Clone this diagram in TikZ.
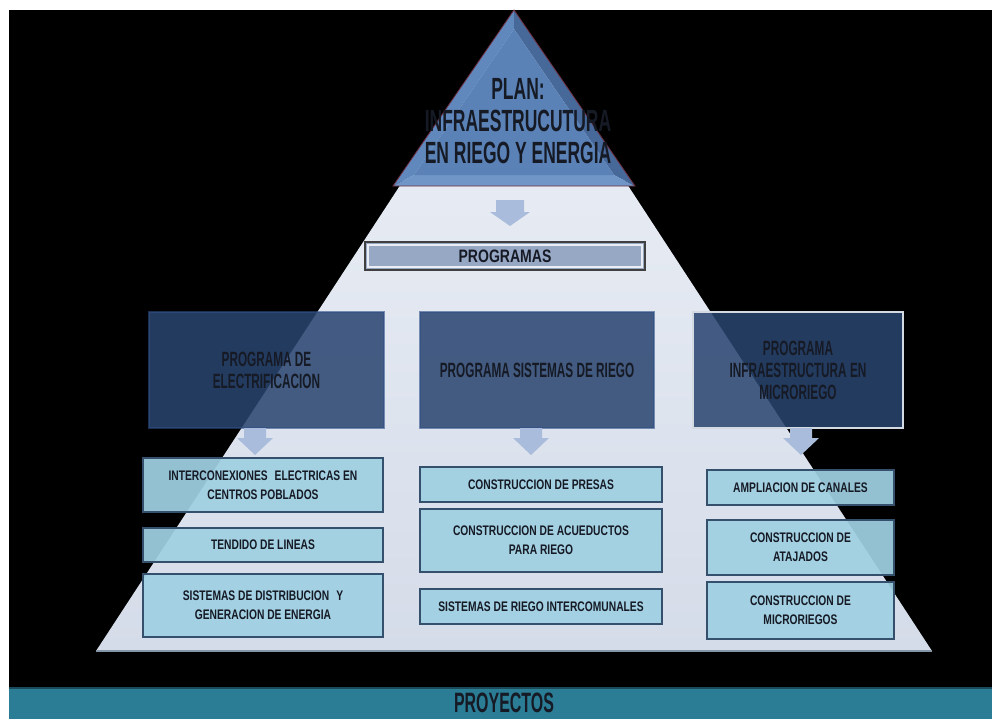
\documentclass[tikz,border=0pt]{standalone}
\usepackage{fontspec}
\setmainfont{Liberation Sans}
\newfontfamily\fA{Liberation Sans}[FakeStretch=0.57]
\newfontfamily\fB{Liberation Sans}[FakeStretch=0.74]
\newfontfamily\fC{Liberation Sans}[FakeStretch=0.78]
\usetikzlibrary{calc}
\definecolor{pyrtop}{HTML}{EDF1F7}
\definecolor{pyrbot}{HTML}{D5DCE9}
\definecolor{tcen}{HTML}{5B82B7}
\definecolor{tleft}{HTML}{6088BD}
\definecolor{tright}{HTML}{46699A}
\definecolor{tbot}{HTML}{7096C8}
\definecolor{tline}{HTML}{6E2E3E}
\definecolor{arr}{HTML}{A9BCDB}
\definecolor{pfill}{HTML}{2A4570}
\definecolor{pbord}{HTML}{2E4F86}
\definecolor{sfill}{HTML}{A0D0E2}
\definecolor{sbord}{HTML}{34506C}
\definecolor{txt}{HTML}{151A25}
\definecolor{barfill}{HTML}{2B7C95}
\definecolor{progfill}{HTML}{97A8C5}
\tikzset{
  sbox/.style={draw=sbord, line width=1pt, fill=sfill, fill opacity=0.93, text opacity=1,
    inner sep=0pt, outer sep=0pt, align=center, text=txt,
    font=\fB\bfseries\fontsize{10.4}{14.5}\selectfont},
  pbox/.style={fill=pfill, fill opacity=0.86, text opacity=1, draw=pbord, draw opacity=0.6, line width=0.8pt,
    inner sep=0pt, outer sep=0pt, align=center, text=txt, minimum height=87pt,
    font=\fA\bfseries\fontsize{15.5}{16.5}\selectfont},
  pics/darrow/.style args={#1/#2/#3/#4}{code={
    \fill[arr] (-#1,0) -- (#1,0) -- (#1,#3) -- (#2,#3) -- (0,#4) -- (-#2,#3) -- (-#1,#3) -- cycle;}}
}
\begin{document}
\begin{tikzpicture}[x=0.75pt,y=-0.75pt]
\useasboundingbox (0,0) rectangle (992,719);
\fill[white] (0,0) rectangle (992,719);
\fill[black] (9,10) rectangle (992,719);
% big pyramid
\coordinate (papex) at (514,11);
\coordinate (pbl) at (96,651);
\coordinate (pbr) at (932,651);
\shade[top color=pyrtop, bottom color=pyrbot] (papex) -- (pbl) -- (pbr) -- cycle;
\draw[color=sbord!60, line width=1pt] (pbl) -- (pbr);
% top triangle with bevel
\coordinate (A) at (514,10);
\coordinate (B) at (393,186);
\coordinate (C) at (635,186);
\coordinate (Ai) at (514,29);
\coordinate (Bi) at (414,175);
\coordinate (Ci) at (614,175);
\fill[tleft] (A) -- (B) -- (Bi) -- (Ai) -- cycle;
\fill[tright] (A) -- (C) -- (Ci) -- (Ai) -- cycle;
\fill[tbot] (B) -- (C) -- (Ci) -- (Bi) -- cycle;
\fill[tcen] (Ai) -- (Bi) -- (Ci) -- cycle;
\draw[tline, line width=0.6pt] (A) -- (B) -- (C) -- cycle;
\node[font=\fA\bfseries\fontsize{23}{24}\selectfont, text=txt, align=center] (plan) at (518,121)
  {PLAN:\\INFRAESTRUCUTURA\\EN RIEGO Y ENERGIA};
% programas bar
\node[fill=progfill, draw=black!75, line width=1.2pt, minimum width=210pt, minimum height=21pt,
  inner sep=0pt, outer sep=0pt, text=txt, font=\fC\bfseries\fontsize{13.5}{14}\selectfont]
  (prog) at (505,256) {PROGRAMAS};
\draw[white!80!progfill, line width=0.8pt] ($(prog.south west)+(3,-3)$) rectangle ($(prog.north east)+(-3,3)$);
\pic at ($(prog.north)+(5,-42)$) {darrow=14/20/12/26};
% program boxes
\node[pbox, minimum width=176.25pt] (p1) at (266.5,370) {PROGRAMA DE\\ELECTRIFICACION};
\node[pbox, minimum width=175.5pt] (p2) at (537,370) {PROGRAMA SISTEMAS DE RIEGO};
\node[pbox, minimum width=157.5pt, draw=white!80!pfill, draw opacity=1, line width=1.3pt] (p3) at (798,370)
  {PROGRAMA\\INFRAESTRUCTURA EN\\MICRORIEGO};
\pic at ($(p1.south)+(-11.5,0)$) {darrow=11/18/10/27};
\pic at ($(p2.south)+(-6,0)$) {darrow=11/18/10/27};
\pic at ($(p3.south)+(3,0)$) {darrow=11/18/10/27};
% project boxes
\node[sbox, minimum width=180pt, minimum height=40.5pt] (l1) at (263,485)
  {INTERCONEXIONES\enspace ELECTRICAS EN\\CENTROS POBLADOS};
\node[sbox, minimum width=180pt, minimum height=25.5pt] (l2) at (263,545) {TENDIDO DE LINEAS};
\node[sbox, minimum width=180pt, minimum height=47.25pt] (l3) at (263,605.5)
  {SISTEMAS DE DISTRIBUCION\enspace Y\\GENERACION DE ENERGIA};
\node[sbox, minimum width=181.5pt, minimum height=26.25pt] (m1) at (541,484.5) {CONSTRUCCION DE PRESAS};
\node[sbox, minimum width=181.5pt, minimum height=47.25pt] (m2) at (541,540.5)
  {CONSTRUCCION DE ACUEDUCTOS\\PARA RIEGO};
\node[sbox, minimum width=181.5pt, minimum height=26.25pt] (m3) at (541,606.5) {SISTEMAS DE RIEGO INTERCOMUNALES};
\node[sbox, minimum width=140.25pt, minimum height=26.25pt] (r1) at (800.5,487.5) {AMPLIACION DE CANALES};
\node[sbox, minimum width=140.25pt, minimum height=41.25pt] (r2) at (800.5,547.5)
  {CONSTRUCCION DE\\ATAJADOS};
\node[sbox, minimum width=140.25pt, minimum height=42.75pt] (r3) at (800.5,610.5)
  {CONSTRUCCION DE\\MICRORIEGOS};
% proyectos bar
\fill[barfill] (9,688) rectangle (992,719);
\draw[barfill!60!black, line width=0.8pt] (9,688) -- (992,688);
\node[text=txt, font=\fA\bfseries\fontsize{21}{22}\selectfont] (proy) at (504,703) {PROYECTOS};
\end{tikzpicture}
\end{document}
